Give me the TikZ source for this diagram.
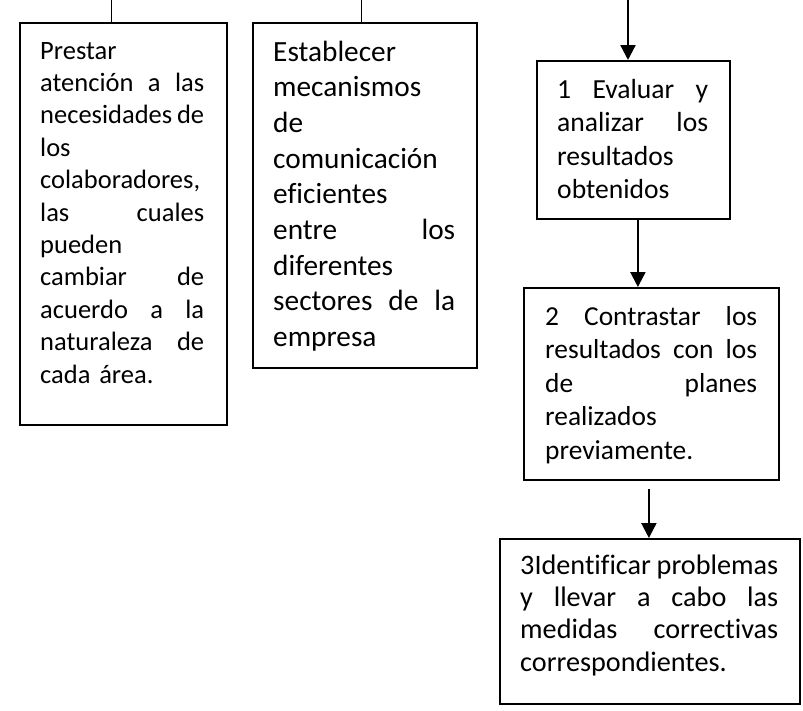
\documentclass[tikz,border=0pt]{standalone}
\usepackage{fontspec}
\setmainfont{Carlito}[Ligatures=NoCommon]
\usepackage{tikz}
\usetikzlibrary{arrows.meta,positioning,calc}
\tikzset{%
         caja/.style = { draw, line width=1.8pt, anchor=north west, inner sep=0pt },
        texto/.style = { anchor=base west, inner sep=0pt, align=left },
       flecha/.style = { line width=2.2pt, -{Triangle[length=15pt,width=15pt]} },
         guia/.style = { line width=0.9pt }
}

\begin{document}
\begin{tikzpicture}[x=1pt,y=-1pt,line join=miter]
\useasboundingbox (0,0) rectangle (803,710);
%cajas
\node[caja,minimum width=207pt,minimum height=402pt] (cajaA) at (19,22) {};
\node[caja,minimum width=224pt,minimum height=345pt] (cajaB) at (252,22) {};
\node[caja,minimum width=193pt,minimum height=158pt] (cajaC) at (536,60) {};
\node[caja,minimum width=255pt,minimum height=192pt] (cajaD) at (523,287) {};
\node[caja,minimum width=300pt,minimum height=165pt] (cajaE) at (499,538) {};

\node[texto,text width=164pt,font=\fontsize{26.5}{32.4}\selectfont] (textoA) at (40,59)
  {Prestar\\ atención\hfill a\hfill las\\ necesidades\hfill de\\ los\\ colaboradores,\\
   las\hfill cuales\\ pueden\\ cambiar\hfill de\\ acuerdo\hfill a\hfill la\\
   naturaleza\hfill de\\ cada área.};
\node[texto,text width=182pt,font=\fontsize{29.3}{35.7}\selectfont] (textoB) at (273,61)
  {Establecer\\ mecanismos\\ de\\ comunicación\\ eficientes\\ entre\hfill los\\
   diferentes\\ sectores\hfill de\hfill la\\ empresa};
\node[texto,text width=151pt,font=\fontsize{27.6}{33.5}\selectfont] (textoC) at (557,98)
  {1\hfill Evaluar\hfill y\\ analizar\hfill los\\ resultados\\ obtenidos};
\node[texto,text width=212pt,font=\fontsize{27.4}{33.5}\selectfont] (textoD) at (545,325)
  {2\hfill Contrastar\hfill los\\ resultados\hfill con\hfill los\\ de\hfill planes\\
   realizados\\ previamente.};
\node[texto,text width=258pt,font=\fontsize{28.2}{32.4}\selectfont] (textoE) at (520,574)
  {3Identificar\hfill problemas\\ y\hfill llevar\hfill a\hfill cabo\hfill las\\
   medidas\hfill correctivas\\ correspondientes.};

%conectores
\coordinate (guiaA) at (111,0);
\coordinate (guiaB) at (361,0);
\coordinate (inicio) at (628,0);
\draw[guia] (guiaA) -- (guiaA |- cajaA.north);
\draw[guia] (guiaB) -- (guiaB |- cajaB.north);
\draw[flecha] (inicio) -- (inicio |- cajaC.north);
\draw[flecha] ([xshift=4.5pt]cajaC.south) -- ([xshift=4.5pt]cajaC.south |- cajaD.north);
\draw[flecha] ([xshift=-2.5pt,yshift=-8pt]cajaD.south) -- ([xshift=-2.5pt]cajaD.south |- cajaE.north);
\end{tikzpicture}
\end{document}
